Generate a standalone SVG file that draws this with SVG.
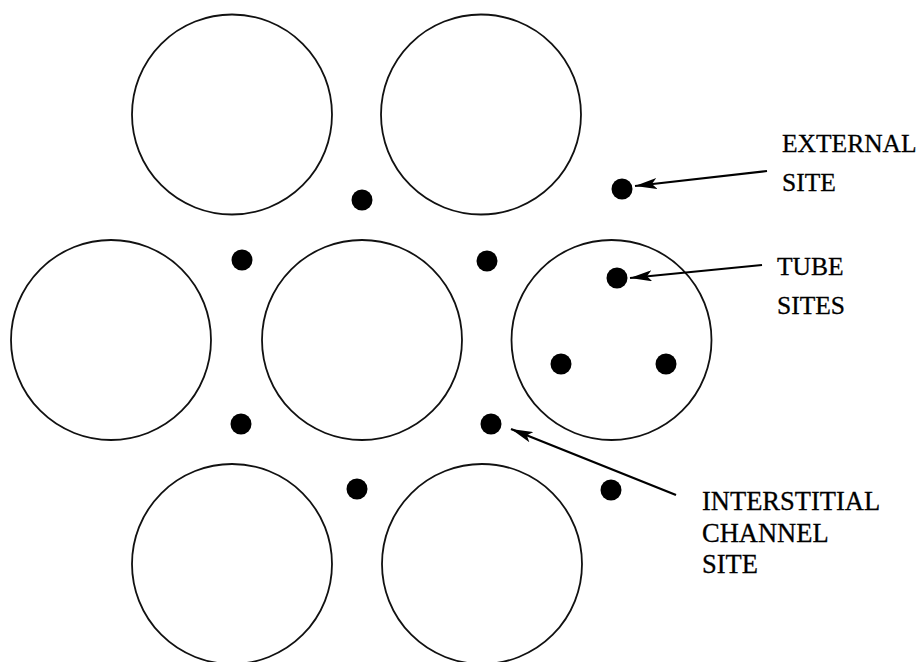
<svg xmlns="http://www.w3.org/2000/svg" width="922" height="662" viewBox="0 0 922 662">
<style>
.tube{fill:none;stroke:#111;stroke-width:1.8}
.site{fill:#000}
.conn{stroke:#000;stroke-width:2.2;fill:none;marker-end:url(#ah)}
.lbl{font-family:"Liberation Serif","Times New Roman",serif;font-size:25.5px;fill:#000;stroke:#000;stroke-width:0.3}
.big{font-size:26.5px}
</style>
<defs>
<marker id="ah" viewBox="0 0 22 11" refX="22" refY="5.5" markerWidth="22" markerHeight="11" markerUnits="userSpaceOnUse" orient="auto">
<path d="M0,0 L22,5.5 L0,11 L5,5.5 Z" fill="#000"/>
</marker>
</defs>
<rect width="922" height="662" fill="#fff"/>
<g id="tube-top-left"><circle class="tube" cx="232" cy="114.5" r="100"/></g>
<g id="tube-top-right"><circle class="tube" cx="481" cy="114.5" r="100"/></g>
<g id="tube-mid-left"><circle class="tube" cx="111" cy="340" r="100"/></g>
<g id="tube-mid-center"><circle class="tube" cx="362" cy="340" r="100"/></g>
<g id="tube-mid-right">
<circle class="tube" cx="611.5" cy="340" r="100"/>
<circle class="site" cx="617" cy="278" r="10.5"/>
<circle class="site" cx="561" cy="364" r="10.5"/>
<circle class="site" cx="666" cy="364" r="10.5"/>
</g>
<g id="tube-bot-left"><circle class="tube" cx="232" cy="564" r="100"/></g>
<g id="tube-bot-right"><circle class="tube" cx="482" cy="564" r="100"/></g>
<g id="sites">
<circle class="site" cx="362" cy="200" r="10.5"/>
<circle class="site" cx="622" cy="189" r="10.5"/>
<circle class="site" cx="242" cy="260" r="10.5"/>
<circle class="site" cx="487" cy="261" r="10.5"/>
<circle class="site" cx="241" cy="424" r="10.5"/>
<circle class="site" cx="491" cy="424" r="10.5"/>
<circle class="site" cx="357" cy="489" r="10.5"/>
<circle class="site" cx="611" cy="490" r="10.5"/>
</g>
<g id="connectors">
<line class="conn" x1="767" y1="171" x2="635" y2="186"/>
<line class="conn" x1="762" y1="265" x2="630" y2="278"/>
<line class="conn" x1="676" y1="495" x2="511" y2="429"/>
</g>
<g id="label-external">
<text class="lbl" x="782" y="152">EXTERNAL</text>
<text class="lbl" x="782" y="191">SITE</text>
</g>
<g id="label-tube">
<text class="lbl" x="777" y="275">TUBE</text>
<text class="lbl" x="777" y="314">SITES</text>
</g>
<g id="label-interstitial">
<text class="lbl big" x="702" y="510">INTERSTITIAL</text>
<text class="lbl big" x="702" y="542">CHANNEL</text>
<text class="lbl big" x="702" y="573">SITE</text>
</g>
</svg>
